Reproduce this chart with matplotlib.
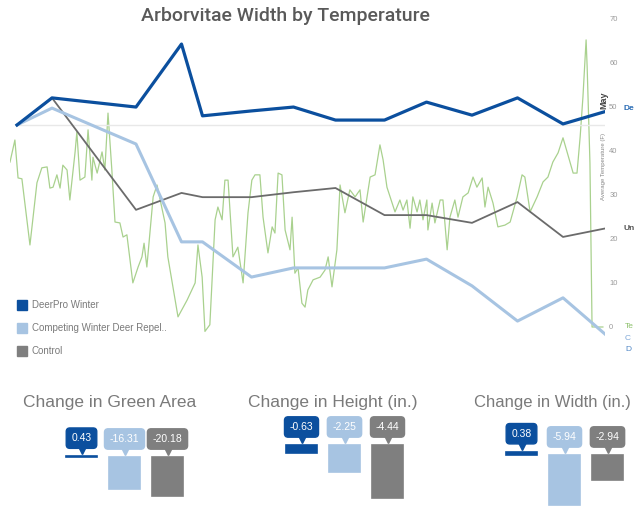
import matplotlib
matplotlib.use('Agg')
import matplotlib.pyplot as plt
from matplotlib.lines import Line2D
from matplotlib.transforms import offset_copy

# ---------------- data ----------------
# width-change measurements (inches), by day of season
meas_days = [2, 12, 36, 49, 55, 69, 81, 93, 107, 119, 132, 145, 158, 170]
deerpro_w = [0, 0.77, 0.51, 2.30, 0.26, 0.40, 0.51, 0.14, 0.14, 0.65, 0.28, 0.77, 0.03, 0.38]
competing_w = [0, 0.48, -0.54, -3.32, -3.32, -4.32, -4.06, -4.06, -4.06, -3.81, -4.57, -5.57, -4.91, -5.94]
control_w = [0, 0.77, -2.41, -1.93, -2.05, -2.05, -1.91, -1.79, -2.56, -2.56, -2.78, -2.19, -3.18, -2.94]

# average temperature (F)
temp_days = [0, 1.4, 2.3, 3.4, 5.7, 7.7, 9.1, 10.6, 11.4, 12.3, 13.4, 14.3, 15.1, 16.3, 17.1, 18.6,
             19.1, 20.0, 21.4, 22.3, 23.4, 23.7, 24.9, 26.3, 27.1, 28.0, 29.1, 30.0, 31.4, 32.3, 33.4,
             35.1, 36.6, 37.7, 38.3, 39.1, 40.9, 42.0, 42.9, 44.3, 45.1, 48.0, 50.6, 52.9, 53.7, 54.9,
             55.7, 57.1, 58.6, 59.4, 60.6, 61.4, 62.3, 63.7, 65.1, 66.6, 68.0, 69.1, 70.0, 71.4, 72.3,
             73.7, 74.9, 75.7, 76.6, 77.7, 78.6, 80.0, 80.6, 81.4, 82.3, 83.4, 84.3, 85.1, 86.6, 88.6,
             90.0, 90.9, 92.0, 93.4, 94.3, 95.7, 97.1, 98.6, 100.0, 100.9, 102.9, 104.3, 105.7, 106.6,
             107.7, 108.6, 110.0, 111.4, 112.3, 113.4, 114.3, 115.1, 116.3, 117.1, 118.0, 119.1, 119.4,
             120.6, 121.4, 122.9, 123.7, 124.9, 125.7, 127.1, 128.0, 129.4, 130.9, 132.3, 133.4, 134.9,
             135.7, 136.6, 138.0, 139.4, 141.4, 142.9, 144.9, 146.3, 147.1, 148.6, 150.6, 152.3, 153.7,
             155.1, 156.6, 158.0, 159.4, 160.9, 162.0, 162.9, 163.7, 164.6, 164.9, 165.7, 166.3, 167.7, 169.4]
temp_vals = [37.4, 42.4, 33.8, 33.6, 18.6, 32.7, 36.1, 36.3, 31.5, 31.7, 34.5, 31.5, 36.7, 35.6, 28.8, 39.7,
             44.2, 33.3, 34.0, 44.7, 33.3, 38.5, 34.9, 39.7, 35.6, 48.5, 35.6, 23.8, 23.6, 20.4, 20.9,
             10.0, 13.6, 15.9, 19.0, 13.6, 29.5, 32.2, 28.8, 23.6, 15.9, 2.3, 6.1, 10.0, 18.6, 11.3,
             -1.0, 0.5, 24.3, 27.2, 24.3, 33.3, 33.3, 15.9, 18.1, 10.0, 25.9, 33.3, 34.5, 34.5, 24.9,
             16.8, 22.7, 21.3, 34.9, 34.5, 22.0, 17.5, 24.9, 12.2, 13.4, 5.4, 4.5, 8.4, 10.7, 11.3,
             12.9, 15.9, 9.1, 17.5, 32.2, 25.9, 31.1, 29.5, 31.1, 23.8, 34.0, 34.5, 41.3, 37.9,
             31.7, 29.5, 26.1, 28.8, 26.5, 28.8, 22.4, 29.5, 26.1, 28.8, 24.3, 28.8, 22.0,
             28.1, 23.6, 28.8, 28.8, 17.5, 24.9, 28.8, 24.9, 29.5, 30.4, 34.0, 31.7, 33.8,
             27.2, 31.7, 28.1, 22.7, 23.1, 23.8, 29.5, 34.5, 34.0, 26.1, 29.5, 32.9, 34.0,
             37.4, 39.5, 42.9, 39.0, 34.9, 34.9, 43.1, 52.2, 65.1, 59.0, 37.2, 0, 0, 0]

temp_ticks = [0, 10, 20, 30, 40, 50, 60, 70]

series_names = ["DeerPro Winter", "Competing Winter Deer Repel..", "Control"]
# end labels as visible in the reference (cut at the right edge)
end_labels = ["De", "Un", "Te", "C", "D"]
panel_titles = ["Change in Green Area", "Change in Height (in.)", "Change in Width (in.)"]
green_area = [0.43, -16.31, -20.18]
height_chg = [-0.63, -2.25, -4.44]
width_chg = [0.38, -5.94, -2.94]

# ---------------- style ----------------
C_DARK = '#0b4f9e'
C_LIGHT = '#a7c4e2'
C_CTRL_LINE = '#6b6b6b'
C_CTRL = '#7f7f7f'
C_GREEN = '#a9d18e'
FONT = ['Liberation Sans', 'DejaVu Sans']
plt.rcParams['font.family'] = FONT

W, H = 634, 507
fig = plt.figure(figsize=(W / 100, H / 100), dpi=100)


def px_axes(l, t, r, b):
    return fig.add_axes([l / W, 1 - b / H, (r - l) / W, (b - t) / H])


# ---------------- main chart ----------------
ax = px_axes(10, 10, 605, 340)
ax.plot(temp_days, temp_vals, color=C_GREEN, lw=0.9, zorder=1)
ax.set_xlim(0, 170)
ax.set_ylim(-2.95, 71.88)
for s in ax.spines.values():
    s.set_visible(False)
ax.set_xticks([])

axw = ax.twinx()
axw.set_ylim(-6.108, 3.267)
axw.set_xlim(0, 170)
for s in axw.spines.values():
    s.set_visible(False)
axw.set_yticks([])
axw.hlines(0, meas_days[0], meas_days[-1], color='#e8e8e8', lw=1, zorder=0)
axw.plot(meas_days, control_w, color=C_CTRL_LINE, lw=1.3, zorder=2)
axw.plot(meas_days, competing_w, color=C_LIGHT, lw=2.2, zorder=3)
axw.plot(meas_days, deerpro_w, color=C_DARK, lw=2.3, zorder=4)

ax.yaxis.tick_right()
ax.set_yticks(temp_ticks)
ax.tick_params(axis='y', length=0, pad=3, labelsize=5.5, labelcolor='#9a9a9a')

# end labels
axw.annotate(end_labels[0], xy=(meas_days[-1], deerpro_w[-1]), xytext=(18, 3),
             textcoords='offset pixels', color='#2a6cb5', fontsize=6, fontweight='bold',
             va='center', ha='left', annotation_clip=False)
axw.annotate(end_labels[1], xy=(meas_days[-1], control_w[-1]), xytext=(18, 0),
             textcoords='offset pixels', color='#555555', fontsize=6, fontweight='bold',
             va='center', ha='left', annotation_clip=False)
ax.annotate(end_labels[2], xy=(temp_days[-1], temp_vals[-1]), xytext=(22, 0),
            textcoords='offset pixels', color='#8cc06a', fontsize=6,
            va='center', ha='left', annotation_clip=False)
ax.annotate(end_labels[3], xy=(temp_days[-1], temp_vals[-1]), xytext=(22, -12),
            textcoords='offset pixels', color='#7fa8d8', fontsize=6,
            va='center', ha='left', annotation_clip=False)
ax.annotate(end_labels[4], xy=(temp_days[-1], temp_vals[-1]), xytext=(22, -23),
            textcoords='offset pixels', color='#4f86c6', fontsize=6,
            va='center', ha='left', annotation_clip=False)

fig.text(604 / W, 1 - 100 / H, "May", rotation=90, fontsize=6.5, fontweight='bold',
         color='#444444', ha='center', va='center')
fig.text(604 / W, 1 - 167 / H, "Average Temperature (F)", rotation=90, fontsize=4.3,
         color='#888888', ha='center', va='center')

fig.text(285 / W, 1 - 16 / H, "Arborvitae Width by Temperature", fontsize=14,
         family=['Roboto', 'DejaVu Sans'], fontweight='medium', color='#595959',
         ha='center', va='center')

handles = [Line2D([], [], marker='s', linestyle='none', markersize=7, color=c)
           for c in (C_DARK, C_LIGHT, C_CTRL)]
fig.legend(handles, series_names, loc='upper left', bbox_to_anchor=(17 / W, 1 - 300 / H),
           bbox_transform=fig.transFigure, frameon=False, fontsize=7, labelcolor='#7a7a7a',
           handlelength=1.0, handletextpad=0.5, labelspacing=1.35, borderpad=0,
           borderaxespad=0)

# ---------------- bottom panels ----------------
panel_vals = [green_area, height_chg, width_chg]
panel_left = [60, 280, 500]
panel_ylim = [(-25.6, 21.5), (-5.17, 2.5), (-6.12, 4.7)]
title_pos = [(110, 'center', 12.5), (333, 'center', 12.5), (631, 'right', 12)]
colors = [C_DARK, C_LIGHT, C_CTRL]

for vals, left, ylim, tp, title in zip(panel_vals, panel_left, panel_ylim, title_pos, panel_titles):
    pa = px_axes(left, 415, left + 129, 507)
    pa.set_xlim(-0.5, 2.5)
    pa.set_ylim(*ylim)
    pa.axis('off')
    xs = range(len(vals))
    pa.bar(xs, vals, width=0.7, color=colors, edgecolor=colors, linewidth=1.2, clip_on=False)
    tri = offset_copy(pa.transData, fig=fig, x=0, y=6, units='dots')
    for x, v, c in zip(xs, vals, colors):
        top = max(v, 0)
        pa.plot([x], [top], marker='v', markersize=6, color=c, transform=tri, clip_on=False)
        pa.annotate(f"{v:.2f}", xy=(x, top), xytext=(0, 18), textcoords='offset pixels',
                    ha='center', va='center', fontsize=7.5, color='white',
                    bbox=dict(boxstyle='round,pad=0.5,rounding_size=0.35', fc=c, ec=c),
                    annotation_clip=False)
    fig.text(tp[0] / W, 1 - 403 / H, title, fontsize=tp[2], color='#7a7a7a',
             ha=tp[1], va='center')

fig.savefig('out.png', dpi=100)
